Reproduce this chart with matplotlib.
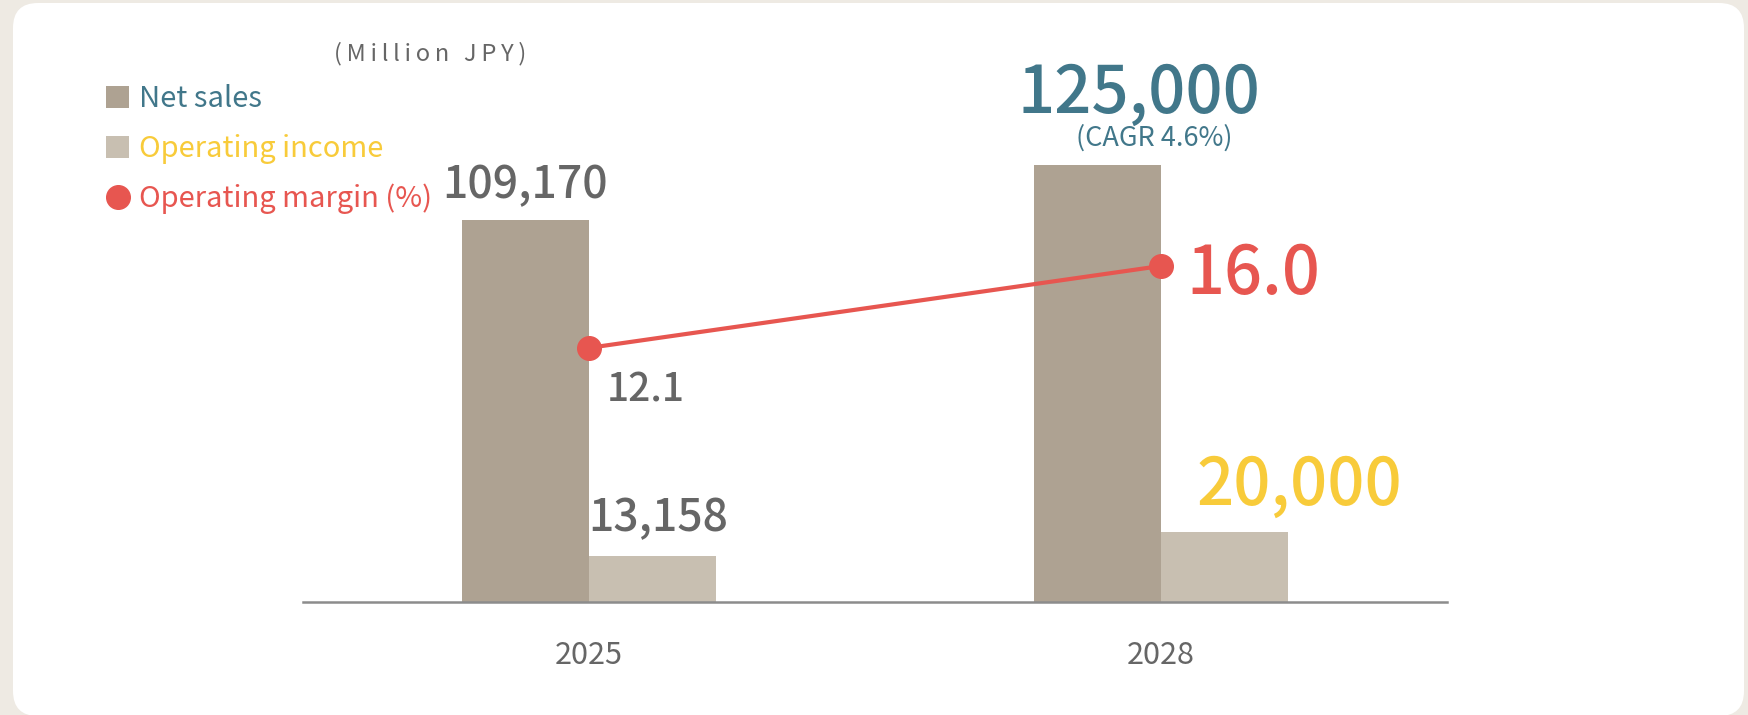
import numpy as np
import matplotlib
matplotlib.use('Agg')
import matplotlib.pyplot as plt
from matplotlib.patches import FancyBboxPatch, Patch
from matplotlib.lines import Line2D

plt.rcParams['font.family'] = ['Noto Sans CJK JP', 'DejaVu Sans']

# data
years = ['2025', '2028']
net_sales = [109170, 125000]
op_income = [13158, 20000]
op_margin = [12.1, 16.0]
cagr_text = '(CAGR 4.6%)'
unit_text = '(Million JPY)'
legend_labels = ['Net sales', 'Operating income', 'Operating margin (%)']

# colours
c_sales = '#AEA292'
c_income = '#C8BFB1'
c_margin = '#E75650'
c_teal = '#41778A'
c_yellow = '#F8CB3A'
c_text = '#666666'
c_bg = '#EEEAE3'

W, H = 1749, 715
fig = plt.figure(figsize=(W / 100, H / 100), dpi=100)
fig.patch.set_facecolor(c_bg)

# white rounded card behind everything
bg = fig.add_axes([0, 0, 1, 1])
bg.set_xlim(0, W)
bg.set_ylim(H, 0)
bg.axis('off')
r = 25
bg.add_patch(FancyBboxPatch((13 + r, 3 + r), 1744 - 13 - 2 * r, 716 - 3 - 2 * r,
                            boxstyle='round,pad=%d' % r, fc='white', ec='none'))

# bars
ax = fig.add_axes([303 / W, (H - 602) / H, 1144 / W, 562 / H])
ax.patch.set_alpha(0)
x = np.arange(len(years))
w = 0.222
ax.bar(x - w / 2, net_sales, w, color=c_sales, lw=0, zorder=2)
ax.bar(x + w / 2, op_income, w, color=c_income, lw=0, zorder=2)
ax.set_xlim(-0.5, 1.5)
ax.set_ylim(0, 160800)
for s in ['top', 'left', 'right']:
    ax.spines[s].set_visible(False)
ax.spines['bottom'].set_color('#8C8C8C')
ax.spines['bottom'].set_linewidth(1.8)
ax.spines['bottom'].set_zorder(3)
ax.set_yticks([])
ax.set_xticks(x, years)
ax.tick_params(axis='x', length=0, pad=27, labelsize=22, labelcolor=c_text)

# margin line on its own scale
ax2 = ax.twinx()
ax2.set_ylim(0, 26.76)
ax2.axis('off')
ax2.plot(x, op_margin, color=c_margin, lw=3, marker='o', ms=17, zorder=5)

# value labels
ax.annotate(f'{net_sales[0]:,}', (x[0] - w / 2, net_sales[0]), xytext=(0, 22),
            textcoords='offset pixels', ha='center', va='baseline',
            fontsize=32, color=c_text, fontweight='medium')
ax.annotate(f'{op_income[0]:,}', (x[0] + w / 2, op_income[0]), xytext=(6, 25),
            textcoords='offset pixels', ha='center', va='baseline',
            fontsize=32, color=c_text, fontweight='medium')
ax.annotate(f'{net_sales[1]:,}', (x[1] - w / 2, net_sales[1]), xytext=(41, 52),
            textcoords='offset pixels', ha='center', va='baseline',
            fontsize=47, color=c_teal, fontweight='medium')
ax.annotate(cagr_text, (x[1] - w / 2, net_sales[1]), xytext=(57, 19),
            textcoords='offset pixels', ha='center', va='baseline',
            fontsize=19.5, color=c_teal)
ax.annotate(f'{op_income[1]:,}', (x[1] + w / 2, op_income[1]), xytext=(75, 27),
            textcoords='offset pixels', ha='center', va='baseline',
            fontsize=47, color=c_yellow, fontweight='medium')
ax2.annotate(f'{op_margin[0]:.1f}', (x[0], op_margin[0]), xytext=(18, -54),
             textcoords='offset pixels', ha='left', va='baseline',
             fontsize=28, color=c_text, fontweight='medium')
ax2.annotate(f'{op_margin[1]:.1f}', (x[1], op_margin[1]), xytext=(25, -28),
             textcoords='offset pixels', ha='left', va='baseline',
             fontsize=48, color=c_margin, fontweight='medium')

# unit note, letter-spaced
fig.text(430 / W, 1 - 54 / H, '\u2009'.join(unit_text), ha='center', va='center',
         fontsize=17, color=c_text)

# legend
handles = [Patch(fc=c_sales, ec='none'), Patch(fc=c_income, ec='none'),
           Line2D([], [], marker='o', color=c_margin, ls='none', ms=17)]
leg = fig.legend(handles, legend_labels, loc='upper left',
                 bbox_to_anchor=(106 / W, 1 - 84 / H), bbox_transform=fig.transFigure,
                 frameon=False, fontsize=21, handlelength=0.8, handleheight=0.8,
                 handletextpad=0.32, labelspacing=0.68, borderpad=0, borderaxespad=0)
for t, c in zip(leg.get_texts(), [c_teal, c_yellow, c_margin]):
    t.set_color(c)

fig.savefig('out.png', dpi=100, facecolor=fig.get_facecolor())
